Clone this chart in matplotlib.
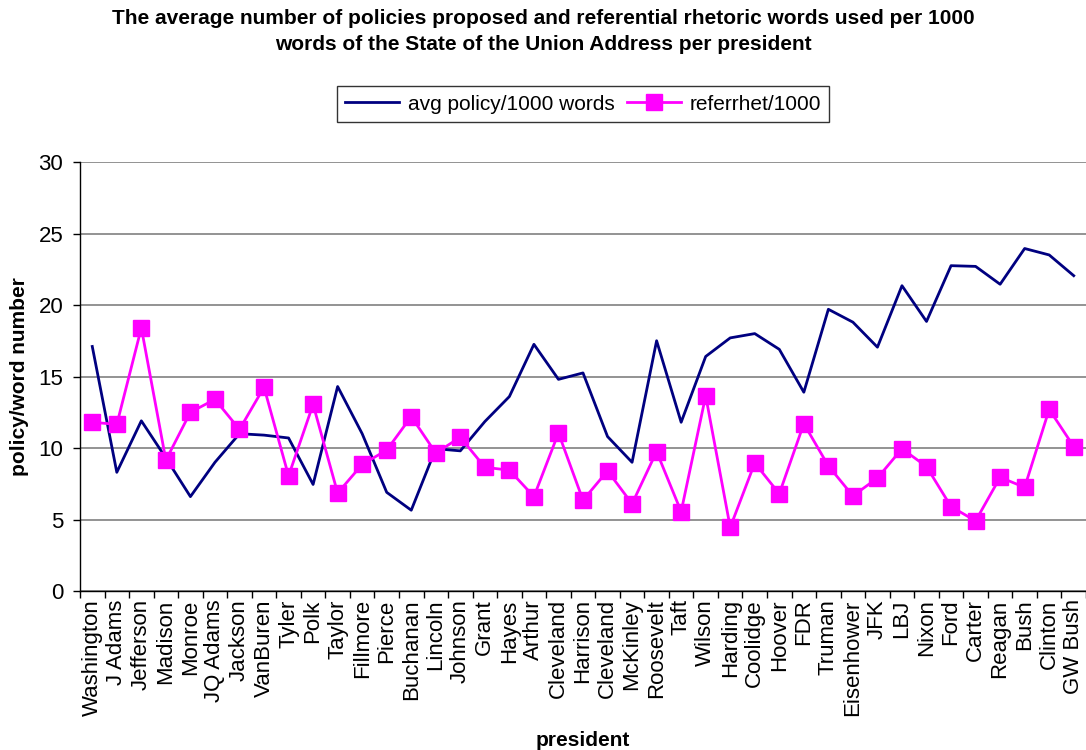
import matplotlib
matplotlib.use('Agg')
import matplotlib.pyplot as plt
from matplotlib.ticker import FixedLocator

plt.rcParams['font.family'] = ['Liberation Sans', 'DejaVu Sans']

presidents = ['Washington', 'J Adams', 'Jefferson', 'Madison', 'Monroe', 'JQ Adams',
              'Jackson', 'VanBuren', 'Tyler', 'Polk', 'Taylor', 'Fillmore', 'Pierce',
              'Buchanan', 'Lincoln', 'Johnson', 'Grant', 'Hayes', 'Arthur', 'Cleveland',
              'Harrison', 'Cleveland', 'McKinley', 'Roosevelt', 'Taft', 'Wilson',
              'Harding', 'Coolidge', 'Hoover', 'FDR', 'Truman', 'Eisenhower', 'JFK',
              'LBJ', 'Nixon', 'Ford', 'Carter', 'Reagan', 'Bush', 'Clinton', 'GW Bush']

avg_policy = [17.1, 8.3, 11.9, 9.3, 6.6, 9.0, 11.0, 10.9, 10.7, 7.45, 14.3, 11.0, 6.9,
              5.65, 9.95, 9.8, 11.85, 13.6, 17.25, 14.8, 15.25, 10.8, 9.0, 17.5, 11.8,
              16.4, 17.7, 18.0, 16.9, 13.9, 19.7, 18.8, 17.05, 21.35, 18.85, 22.75,
              22.7, 21.45, 23.95, 23.5, 22.05]

referrhet = [11.8, 11.65, 18.4, 9.15, 12.5, 13.4, 11.3, 14.25, 8.05, 13.05, 6.85, 8.85,
             9.85, 12.2, 9.65, 10.75, 8.65, 8.45, 6.6, 11.05, 6.35, 8.4, 6.1, 9.75, 5.55,
             13.65, 4.45, 8.95, 6.8, 11.7, 8.75, 6.65, 7.9, 9.95, 8.7, 5.9, 4.9, 7.95,
             7.25, 12.7, 10.1]

x = list(range(len(presidents)))

fig = plt.figure(figsize=(10.86, 7.5), dpi=100)
ax = fig.add_axes([80 / 1086, 1 - 591 / 750, 1 - 80 / 1086, (591 - 162) / 750])

ax.plot(x, avg_policy, color='#000080', lw=2.0, label='avg policy/1000 words', zorder=3)
ax.plot(x, referrhet, color='#FF00FF', lw=2.0, marker='s', markersize=11.5,
        label='referrhet/1000', zorder=4)

ax.set_xlim(-0.5, len(presidents) - 0.5)
ax.set_ylim(0, 30)
ax.set_yticks(range(0, 31, 5))
ax.yaxis.grid(True, color='#808080', lw=1.2)
ax.set_axisbelow(True)

# category labels at centres, tick marks on the boundaries between categories
ax.set_xticks(x)
ax.set_xticklabels(presidents, rotation=90, fontsize=16)
ax.xaxis.set_minor_locator(FixedLocator([i - 0.5 for i in range(len(presidents) + 1)]))
ax.tick_params(axis='x', which='major', length=0, pad=6)
ax.tick_params(axis='x', which='minor', length=5, width=1, direction='out')
ax.tick_params(axis='y', length=5, width=1, direction='out', labelsize=16, pad=7)

for side in ['top', 'right']:
    ax.spines[side].set_visible(False)
ax.spines['left'].set_linewidth(1.0)
ax.spines['bottom'].set_linewidth(1.0)

ax.set_xlabel('president', fontsize=15, fontweight='bold', labelpad=11)
ax.set_ylabel('policy/word number', fontsize=15, fontweight='bold', labelpad=7)

fig.text(0.5, 1 - 9 / 750, 'The average number of policies proposed and referential rhetoric words used per 1000\n'
         'words of the State of the Union Address per president',
         ha='center', va='top', fontsize=15, fontweight='bold', linespacing=1.5)

leg = ax.legend(loc='center', bbox_to_anchor=(583 / 1086, 1 - 104 / 750),
                bbox_transform=fig.transFigure, ncol=2, fontsize=15, frameon=True,
                fancybox=False, edgecolor='black', handlelength=2.6, columnspacing=0.6,
                handletextpad=0.4, borderpad=0.4)
leg.get_frame().set_linewidth(1.0)

fig.savefig('out.png', dpi=100)
